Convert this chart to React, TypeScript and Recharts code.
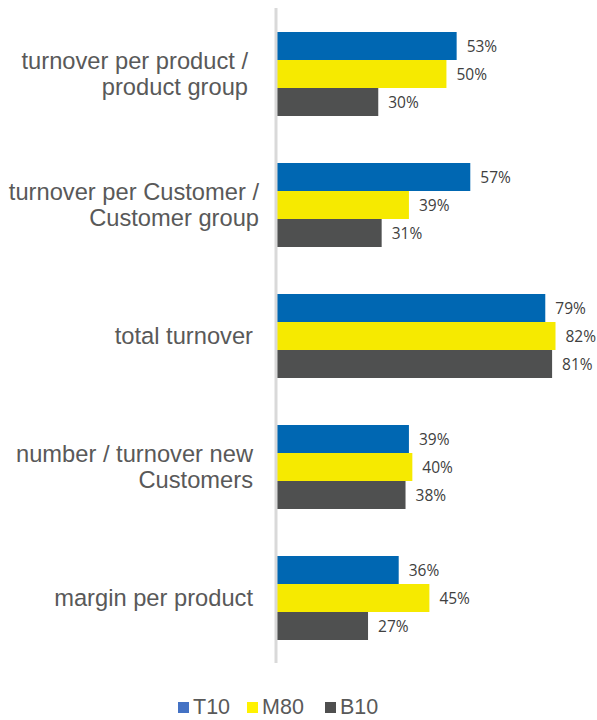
import React from "react";
import { BarChart, Bar, XAxis, YAxis, LabelList } from "recharts";

// categories (y axis), each label broken into its display lines
const categories = [
  "turnover per product / product group",
  "turnover per Customer / Customer group",
  "total turnover",
  "number / turnover new Customers",
  "margin per product",
];
const categoryLines = [
  ["turnover per product /", "product group"],
  ["turnover per Customer /", "Customer group"],
  ["total turnover"],
  ["number / turnover new", "Customers"],
  ["margin per product"],
];

// share of answers in percent
const t10 = [53, 57, 79, 39, 36];
const m80 = [50, 39, 82, 40, 45];
const b10 = [30, 31, 81, 38, 27];

const seriesNames = ["T10", "M80", "B10"];

const data = categories.map((name, i) => ({
  name,
  T10: t10[i],
  M80: m80[i],
  B10: b10[i],
}));

const BAR_COLORS: Record<string, string> = { T10: "#0067b2", M80: "#f6ea00", B10: "#4f5050" };
const LEGEND_COLORS: Record<string, string> = { T10: "#4472c4", M80: "#fff200", B10: "#4f4f4f" };

// right edge of the wrapped label text, Excel leaves some with trailing spaces
const labelRight = [248, 259, 253, 253, 253];

function CategoryTick(props: any) {
  const { y, payload } = props;
  const idx = payload.index ?? categories.indexOf(payload.value);
  const lines = categoryLines[idx] || [payload.value];
  const lh = 26;
  return (
    <text
      textAnchor="end"
      fill="#595959"
      fontFamily="'Liberation Sans', Arial, sans-serif"
      fontSize={23.7}
    >
      {lines.map((l: string, k: number) => (
        <tspan key={k} x={labelRight[idx]} y={y + (k - (lines.length - 1) / 2) * lh + 8}>
          {l}
        </tspan>
      ))}
    </text>
  );
}

const pct = (v: any) => `${v}%`;

export default function App() {
  return (
    <div style={{ position: "absolute", left: 0, top: 0, width: 597, height: 720, background: "#fff" }}>
      <BarChart
        width={597}
        height={720}
        data={data}
        layout="vertical"
        margin={{ top: 8, right: 4, left: 0, bottom: 57 }}
        barCategoryGap={24}
        barGap={0}
      >
        <XAxis type="number" domain={[0, 93]} hide />
        <YAxis
          type="category"
          dataKey="name"
          width={276}
          axisLine={{ stroke: "#d9d9d9", strokeWidth: 3 }}
          tickLine={false}
          tick={<CategoryTick />}
          interval={0}
        />
        {seriesNames.map((s) => (
          <Bar key={s} dataKey={s} fill={BAR_COLORS[s]} isAnimationActive={false}>
            <LabelList
              dataKey={s}
              position="right"
              offset={10}
              formatter={pct}
              fill="#404040"
              fontSize={15.5}
              fontFamily="'Open Sans', sans-serif"
            />
          </Bar>
        ))}
      </BarChart>
      <div
        style={{
          position: "absolute",
          top: 695,
          left: 178,
          display: "flex",
          fontFamily: "'Liberation Sans', Arial, sans-serif",
          fontSize: 21.5,
          color: "#595959",
        }}
      >
        {seriesNames.map((s, i) => (
          <div key={s} style={{ display: "flex", alignItems: "center", marginRight: i === 0 ? 17 : 21 }}>
            <span style={{ width: 11, height: 11, background: LEGEND_COLORS[s], display: "inline-block", marginRight: 4 }} />
            <span>{s}</span>
          </div>
        ))}
      </div>
    </div>
  );
}
